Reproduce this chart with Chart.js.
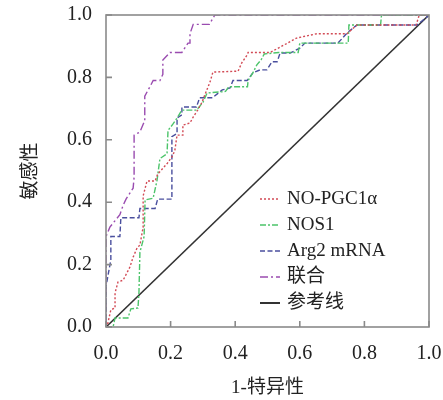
<!DOCTYPE html>
<html><head><meta charset="utf-8">
<script src="https://cdn.jsdelivr.net/npm/chart.js@4"></script>
<style>html,body{margin:0;padding:0;background:#fff}#wrap{width:443px;height:400px}</style>
</head><body><div id="wrap"><canvas id="c" width="443" height="400"></canvas></div>
<script>
// ---- data ----
const seriesLabels = ['NO-PGC1α', 'NOS1', 'Arg2 mRNA', '联合', '参考线'];
const tickValues = [0, 0.2, 0.4, 0.6, 0.8, 1.0];
const xTitle = '1-特异性';
const yTitle = '敏感性';

const noPgcFpr = [0,0.003,0.015,0.028,0.028,0.037,0.053,0.074,0.084,0.096,0.105,0.115,0.115,0.127,0.152,0.16,0.177,0.19,0.204,0.213,0.22,0.238,0.238,0.26,0.27,0.285,0.297,0.306,0.322,0.331,0.409,0.42,0.437,0.44,0.508,0.539,0.59,0.653,0.746,0.777,0.96,0.97,1];
const noPgcTpr = [0,0,0.055,0.061,0.109,0.144,0.15,0.192,0.224,0.253,0.263,0.32,0.42,0.468,0.468,0.49,0.51,0.525,0.545,0.565,0.615,0.615,0.647,0.654,0.673,0.697,0.72,0.744,0.785,0.817,0.82,0.846,0.872,0.88,0.88,0.897,0.926,0.94,0.94,0.968,0.968,1,1];

const nos1Fpr = [0,0.022,0.028,0.068,0.077,0.099,0.102,0.105,0.118,0.121,0.146,0.158,0.167,0.189,0.192,0.207,0.22,0.235,0.28,0.30,0.313,0.37,0.38,0.438,0.44,0.455,0.467,0.48,0.49,0.535,0.595,0.6,0.75,0.752,0.85,0.853,1];
const nos1Tpr = [0,0,0.029,0.029,0.058,0.061,0.11,0.24,0.29,0.407,0.413,0.47,0.54,0.555,0.63,0.65,0.67,0.695,0.695,0.72,0.75,0.755,0.77,0.77,0.79,0.815,0.84,0.856,0.875,0.88,0.88,0.91,0.91,0.968,0.968,1,1];

const arg2Fpr = [0,0,0.015,0.015,0.043,0.046,0.102,0.105,0.152,0.16,0.204,0.204,0.22,0.22,0.235,0.235,0.28,0.29,0.33,0.36,0.384,0.393,0.437,0.455,0.477,0.498,0.514,0.53,0.539,0.57,0.6,0.616,0.718,0.749,0.777,0.963,0.994,1];
const arg2Tpr = [0,0.13,0.215,0.29,0.29,0.35,0.35,0.38,0.38,0.41,0.41,0.61,0.62,0.67,0.68,0.705,0.705,0.735,0.735,0.76,0.766,0.79,0.79,0.815,0.824,0.824,0.85,0.85,0.878,0.878,0.894,0.91,0.91,0.945,0.968,0.968,0.994,1];

const comboFpr = [0,0,0.012,0.043,0.053,0.062,0.084,0.087,0.087,0.105,0.115,0.12,0.12,0.136,0.146,0.167,0.176,0.176,0.198,0.235,0.254,0.26,0.26,0.27,0.32,0.337,1];
const comboTpr = [0,0.29,0.32,0.36,0.39,0.41,0.445,0.48,0.615,0.625,0.65,0.66,0.74,0.77,0.79,0.79,0.81,0.856,0.88,0.88,0.91,0.91,0.94,0.97,0.97,1,1];

const refFpr = [0, 1];
const refTpr = [0, 1];

// ---- build ----
const toPts = (xs, ys) => xs.map((x, i) => ({x: x, y: ys[i]}));
const serif = '"Liberation Serif", "DejaVu Serif", "Noto Sans CJK SC", serif';
const styles = [
  {color: '#d24a55', dash: [2, 2]},
  {color: '#4cc46a', dash: [6, 2, 2, 2]},
  {color: '#4a4f9e', dash: [5, 2.5]},
  {color: '#9a4cb0', dash: [8, 3, 2, 3]},
  {color: '#333333', dash: []}
];
const seriesData = [
  toPts(noPgcFpr, noPgcTpr),
  toPts(nos1Fpr, nos1Tpr),
  toPts(arg2Fpr, arg2Tpr),
  toPts(comboFpr, comboTpr),
  toPts(refFpr, refTpr)
];
const datasets = seriesData.map((d, i) => ({
  label: seriesLabels[i],
  data: d,
  borderColor: styles[i].color,
  borderDash: styles[i].dash,
  borderWidth: i === 4 ? 1.6 : 1.4,
  pointRadius: 0,
  tension: 0,
  fill: false
}));

const frame = {
  id: 'frame',
  afterDatasetsDraw(chart) {
    const {ctx, chartArea: a, scales} = chart;
    ctx.save();
    ctx.strokeStyle = '#8a8a8a';
    ctx.lineWidth = 1.6;
    ctx.setLineDash([]);
    ctx.strokeRect(a.left, a.top, a.right - a.left, a.bottom - a.top);
    ctx.beginPath();
    tickValues.forEach(v => {
      const px = scales.x.getPixelForValue(v);
      ctx.moveTo(px, a.bottom); ctx.lineTo(px, a.bottom - 6);
      const py = scales.y.getPixelForValue(v);
      ctx.moveTo(a.left, py); ctx.lineTo(a.left + 6, py);
    });
    ctx.stroke();
    ctx.restore();
  }
};

const legendBox = {
  id: 'legendBox',
  afterDraw(chart) {
    const {ctx} = chart;
    ctx.save();
    ctx.font = '19px ' + serif;
    ctx.textBaseline = 'middle';
    ctx.textAlign = 'left';
    chart.data.datasets.forEach((ds, i) => {
      const y = 199 + i * 26;
      ctx.strokeStyle = ds.borderColor;
      ctx.lineWidth = i === 4 ? 2 : 1.4;
      ctx.setLineDash(ds.borderDash);
      ctx.beginPath(); ctx.moveTo(260, y); ctx.lineTo(280, y); ctx.stroke();
      ctx.fillStyle = '#222';
      ctx.fillText(ds.label, 287, y);
    });
    ctx.restore();
  }
};

new Chart(document.getElementById('c'), {
  type: 'line',
  data: {datasets: datasets},
  plugins: [frame, legendBox],
  options: {
    responsive: false,
    animation: false,
    devicePixelRatio: 1,
    layout: {padding: {top: 15, right: 14, left: 0, bottom: 0}},
    plugins: {legend: {display: false}, tooltip: {enabled: false}},
    scales: {
      x: {
        type: 'linear', min: 0, max: 1,
        afterBuildTicks: s => { s.ticks = tickValues.map(v => ({value: v})); },
        ticks: {callback: v => v.toFixed(1), font: {family: serif, size: 20}, color: '#222', padding: 15, maxRotation: 0},
        grid: {display: false, drawTicks: false},
        border: {display: false},
        title: {display: true, text: xTitle, font: {family: serif, size: 19}, color: '#222', padding: {top: 0, bottom: 1}},
        afterFit: s => { s.height = 73; s.paddingLeft = 0; s.paddingRight = 0; }
      },
      y: {
        type: 'linear', min: 0, max: 1,
        afterBuildTicks: s => { s.ticks = tickValues.map(v => ({value: v})); },
        ticks: {callback: v => v.toFixed(1), font: {family: serif, size: 20}, color: '#222', padding: 14},
        grid: {display: false, drawTicks: false},
        border: {display: false},
        title: {display: true, text: yTitle, font: {family: serif, size: 19}, color: '#222', padding: {top: 20, bottom: 0}},
        afterFit: s => { s.width = 106; s.paddingTop = 0; s.paddingBottom = 0; }
      }
    }
  }
});
</script></body></html>
